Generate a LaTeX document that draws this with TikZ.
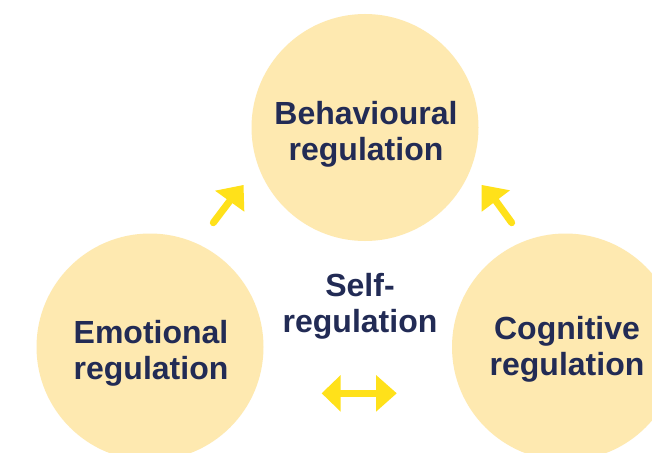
\documentclass[tikz,border=0pt]{standalone}
\usepackage{fontspec}
\setmainfont{Liberation Sans}
\definecolor{circfill}{HTML}{FEE9B0}
\definecolor{arrowyel}{HTML}{FFE11A}
\definecolor{navy}{HTML}{222B55}
\begin{document}
\begin{tikzpicture}[x=1pt,y=-1pt,
  bubble/.style={circle,fill=circfill,minimum size=227pt,inner sep=0pt},
  label/.style={text=navy,font=\fontsize{32}{36}\selectfont\bfseries,align=center,anchor=base,inner sep=0pt},
  stem/.style={arrowyel,line width=7pt,line cap=round},
  head/.style={fill=arrowyel}]
\useasboundingbox (0,0) rectangle (652,452);
\fill[white] (0,0) rectangle (652,452);
\begin{scope}
\clip (0,0) rectangle (652,452);
\node[bubble] (beh) at (365,127.5) {};
\node[bubble] (emo) at (150,347) {};
\node[bubble] (cog) at (565.5,347) {};
\end{scope}
\node[label] (behtxt) at (366,160) {Behavioural\\regulation};
\node[label] (self) at (360,332) {Self-\\regulation};
\node[label] (emotxt) at (151,379) {Emotional\\regulation};
\node[label] (cogtxt) at (567,375.5) {Cognitive\\regulation};
% left arrow
\coordinate (la0) at (213.3,222.7);
\coordinate (la1) at (229.6,201.2);
\draw[stem] (la0) -- (la1);
\fill[head] (243.5,185) -- (215,190.7) -- (244.3,211.7) -- cycle;
% right arrow
\coordinate (ra0) at (511.7,222.7);
\coordinate (ra1) at (495.9,200.9);
\draw[stem] (ra0) -- (ra1);
\fill[head] (481.7,185) -- (510,190.3) -- (481.7,211.7) -- cycle;
% double arrow
\coordinate (da0) at (338,393.3);
\coordinate (da1) at (379,393.3);
\draw[arrowyel,line width=7pt] (da0) -- (da1);
\fill[head] (321.7,393.3) -- (340.7,375) -- (340.7,411.7) -- cycle;
\fill[head] (396.7,393.3) -- (376,375) -- (376,411.7) -- cycle;
\end{tikzpicture}
\end{document}
